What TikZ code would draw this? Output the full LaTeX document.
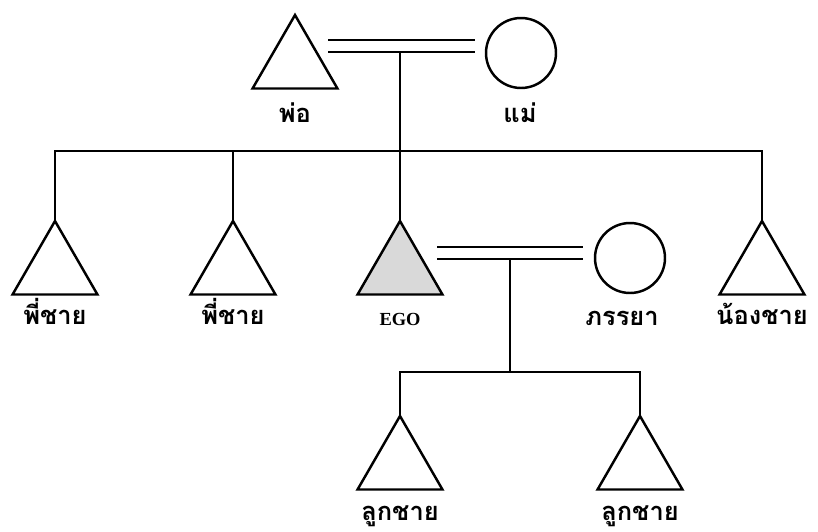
\documentclass[tikz,border=0pt]{standalone}
\usepackage{fontspec}
\setmainfont{Liberation Serif}
\newfontfamily\thaifont[Script=Thai]{Loma}
\usetikzlibrary{shapes.geometric}

\tikzset{
	male/.style={draw, regular polygon, regular polygon sides=3,
		minimum size=1.96cm, inner sep=0pt, outer sep=0pt, line width=1.4pt},
	female/.style={draw, circle, minimum size=1.4cm,
		inner sep=0pt, outer sep=0pt, line width=1.4pt},
	kin/.style={line width=1.4pt},
	marriage/.style={line width=1.4pt, double=white, double distance=5.4pt},
	lbl/.style={font=\thaifont\bfseries\fontsize{14.5}{16}\selectfont,
		inner sep=0pt, anchor=base},
	egolbl/.style={font=\bfseries\fontsize{10.5}{12}\selectfont, inner sep=0pt, anchor=base},
}

\begin{document}
\begin{tikzpicture}[x=0.02cm, y=-0.02cm]
		
		\useasboundingbox (0,0) rectangle (818,531);
		
		
		\node[male] (po) at (295,64) {};
		\node[female] (mae) at (521,53) {};
		
		\node[male] (b1) at (55,270) {};
		\node[male] (b2) at (233,270) {};
		\node[male, fill=black!15] (ego) at (400,270) {};
		\node[female] (phanraya) at (630,258) {};
		\node[male] (nong) at (762,270) {};
		
		\node[male] (luk1) at (400,465) {};
		\node[male] (luk2) at (640,465) {};
		
		
		\coordinate (fmL) at (328,46);
		\coordinate (fmR) at (475,46);
		\coordinate (fm) at (400,46);
		\coordinate (sib) at (400,151);
		
		\coordinate (emL) at (437,253);
		\coordinate (emR) at (583,253);
		\coordinate (em) at (510,253);
		\coordinate (kids) at (510,372);
		
		
		\draw[marriage] (fmL) -- (fmR);
		\draw[kin, shorten <=3.4pt] (fm) -- (ego.corner 1);
		\draw[kin] (b1.corner 1) -- (b1.corner 1 |- sib) -- (nong.corner 1 |- sib) -- (nong.corner 1);
		\draw[kin] (b2.corner 1) -- (b2.corner 1 |- sib);
		
		\draw[marriage] (emL) -- (emR);
		\draw[kin, shorten <=3.4pt] (em) -- (kids);
		\draw[kin] (luk1.corner 1) -- (luk1.corner 1 |- kids) -- (luk2.corner 1 |- kids) -- (luk2.corner 1);
		
		
		\node[lbl] (lpo) at (295,122) {พ่อ};
		\node[lbl] (lmae) at (520,122) {แม่};
		\node[lbl] (lb1) at (55,324) {พี่ชาย};
		\node[lbl] (lb2) at (233,324) {พี่ชาย};
		\node[egolbl] (lego) at (400,325) {EGO};
		\node[lbl] (lphanraya) at (622,325) {ภรรยา};
		\node[lbl] (lnong) at (762,324) {น้องชาย};
		\node[lbl] (lluk1) at (400,520) {ลูกชาย};
		\node[lbl] (lluk2) at (640,520) {ลูกชาย};
		
	\end{tikzpicture}
\end{document}
